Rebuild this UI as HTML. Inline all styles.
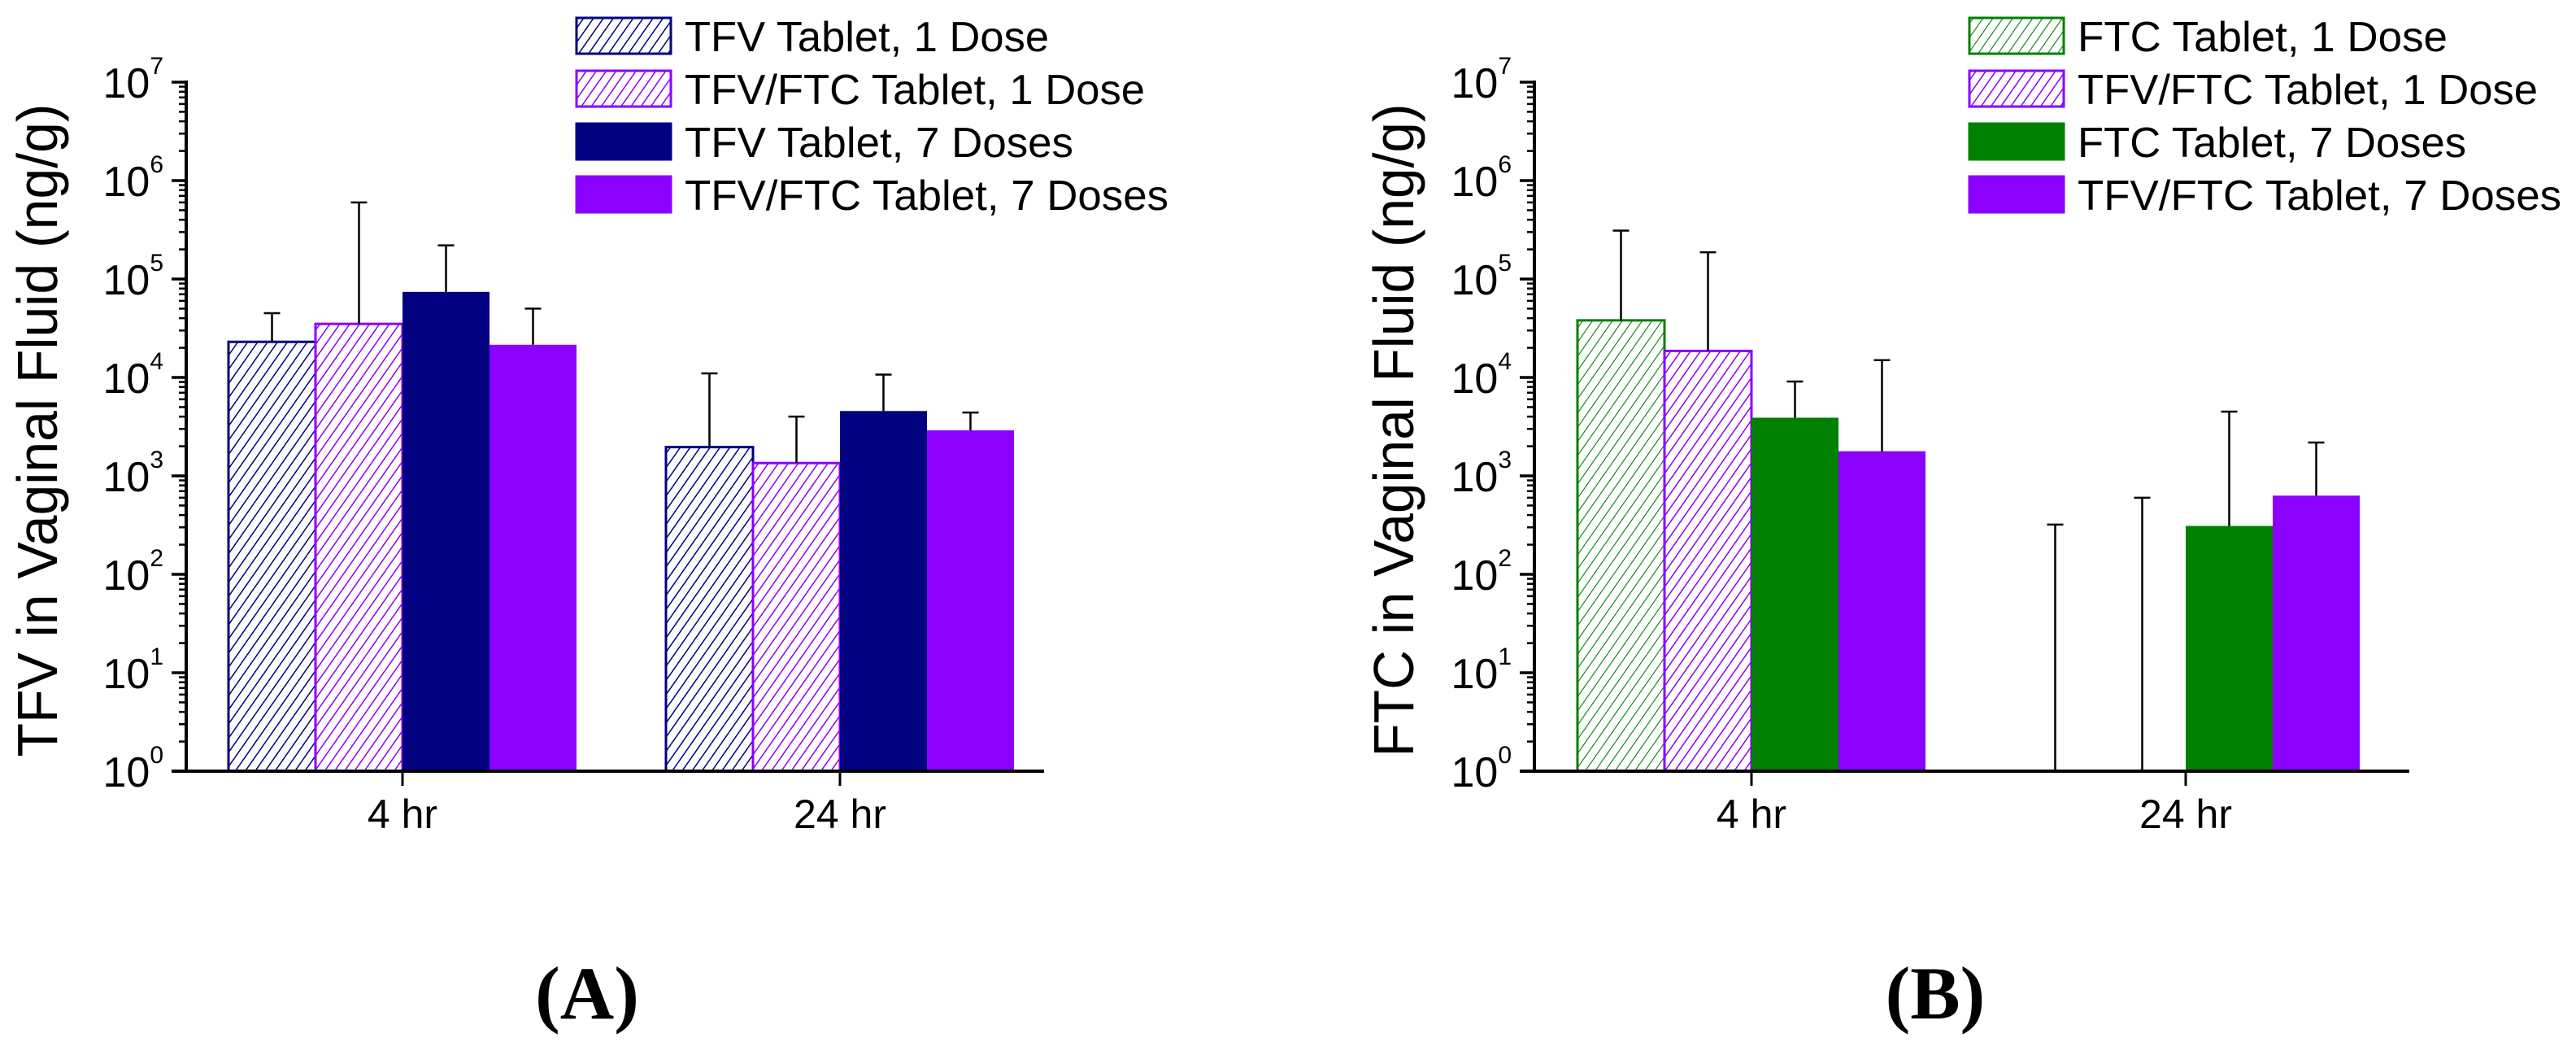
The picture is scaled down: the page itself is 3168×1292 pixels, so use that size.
<!DOCTYPE html>
<html><head><meta charset="utf-8"><style>
html,body{margin:0;padding:0;background:#fff;overflow:hidden;}
svg{display:block;font-family:"Liberation Sans",sans-serif;}
</style></head><body>
<svg id="fig" width="3168" height="1292" viewBox="0 0 3168 1292" xmlns="http://www.w3.org/2000/svg">
<defs>
<pattern id="hNavy" patternUnits="userSpaceOnUse" width="10" height="10" patternTransform="rotate(35)"><rect width="10" height="10" fill="#fff"/><line x1="0" y1="0" x2="0" y2="10" stroke="#000080" stroke-width="3"/></pattern>
<pattern id="hPurple" patternUnits="userSpaceOnUse" width="10" height="10" patternTransform="rotate(35)"><rect width="10" height="10" fill="#fff"/><line x1="0" y1="0" x2="0" y2="10" stroke="#8b00ff" stroke-width="3"/></pattern>
<pattern id="hGreen" patternUnits="userSpaceOnUse" width="10" height="10" patternTransform="rotate(35)"><rect width="10" height="10" fill="#fff"/><line x1="0" y1="0" x2="0" y2="10" stroke="#008000" stroke-width="2.2"/></pattern>
</defs>
<text x="722" y="1252" text-anchor="middle" font-family="Liberation Serif,serif" font-weight="bold" font-size="92">(A)</text>
<text x="2380" y="1252" text-anchor="middle" font-family="Liberation Serif,serif" font-weight="bold" font-size="92">(B)</text>
</svg>
<script>
const categories = ["4 hr", "24 hr"];
const tickExps = [0,1,2,3,4,5,6,7];
const seriesA = ["TFV Tablet, 1 Dose","TFV/FTC Tablet, 1 Dose","TFV Tablet, 7 Doses","TFV/FTC Tablet, 7 Doses"];
const valuesA = [[23000,35000,74000,21500],[1960,1350,4560,2900]];
const errorsA = [[45000,600000,220000,50000],[11000,4000,10700,4400]];
const seriesB = ["FTC Tablet, 1 Dose","TFV/FTC Tablet, 1 Dose","FTC Tablet, 7 Doses","TFV/FTC Tablet, 7 Doses"];
const valuesB = [[38000,18600,3900,1780],[0,0,310,630]];
const errorsB = [[310000,187000,9100,15000],[320,600,4500,2180]];

const NS="http://www.w3.org/2000/svg";
const svg=document.getElementById('fig');
function mk(tag,attrs,parent){const e=document.createElementNS(NS,tag);for(const k in attrs)e.setAttribute(k,attrs[k]);(parent||svg).appendChild(e);return e;}

const yTop=101, yBot=948, decades=7;
function yScale(v){ if(v<=1) return yBot; return yBot-(Math.log10(v))/decades*(yBot-yTop); }

function panel(cfg){
  const g=mk('g',{});
  
  
  const ax=cfg.axisX;
  function xScale(i){return cfg.catX[i];}
  const bw=107;
  categories.forEach((c,ci)=>{
    cfg.values[ci].forEach((v,si)=>{
      const cx=xScale(ci)-2*bw+si*bw+bw/2;
      if(v>1){
        const y=yScale(v);
        const r=mk('rect',{x:cx-bw/2,y:y,width:bw,height:yBot-y,fill:cfg.fills[si],stroke:cfg.strokes[si],'stroke-width':cfg.hatched[si]?3:0},g);
        
        
      }
      const ey=yScale(cfg.errors[ci][si]);
      const eb=mk('path',{d:`M${cx},${yScale(Math.max(v,1))}V${ey}M${cx-10},${ey}H${cx+10}`,stroke:'#000','stroke-width':2.5,fill:'none'},g);
      
      
    });
  });
  const axes=mk('path',{d:`M${ax},${yTop-2}V${yBot}M${ax-18},${yBot}H${cfg.axisEnd}`,stroke:'#000','stroke-width':4,fill:'none'},g);
  
  
  tickExps.forEach(e=>{
    const y=yScale(Math.pow(10,e));
    mk('line',{x1:ax-18,x2:ax,y1:y,y2:y,stroke:'#000','stroke-width':3.5},g);
    if(e<7){for(let m=2;m<10;m++){const ym=yScale(m*Math.pow(10,e));mk('line',{x1:ax-9,x2:ax,y1:ym,y2:ym,stroke:'#000','stroke-width':2.5},g);}}
    const t=mk('text',{x:ax-28,y:y+19,'text-anchor':'end','font-size':52},g);
    t.textContent='10';
    const s=mk('tspan',{dy:-29,'font-size':30},t);s.textContent=String(e);
    
    
  });
  categories.forEach((c,ci)=>{
    const x=xScale(ci);
    mk('line',{x1:x,x2:x,y1:yBot,y2:yBot+18,stroke:'#000','stroke-width':3},g);
    const t=mk('text',{x:x,y:1018,'text-anchor':'middle','font-size':50},g);
    t.textContent=c;
    
    
  });
  const yt=mk('text',{x:0,y:0,'text-anchor':'middle','font-size':70,textLength:803,lengthAdjust:'spacingAndGlyphs',transform:`translate(${cfg.titleX},${529}) rotate(-90)`},g);
  yt.textContent=cfg.title;
  
  
  cfg.series.forEach((s,si)=>{
    const y=22+si*65;
    const r=mk('rect',{x:cfg.legX,y:y,width:116,height:44,fill:cfg.fills[si],stroke:cfg.strokes[si],'stroke-width':3},g);
    
    
    const t=mk('text',{x:cfg.legX+133,y:y+41,'font-size':52,textLength:cfg.legW[si],lengthAdjust:'spacingAndGlyphs'},g);
    t.textContent=s;
    
    
  });
}
panel({name:'panel-a-chart',key:'a',axisX:229,axisEnd:1284,catX:[495,1033],series:seriesA,values:valuesA,errors:errorsA,
  fills:['url(#hNavy)','url(#hPurple)','#000080','#8b00ff'],strokes:['#000080','#8b00ff','#000080','#8b00ff'],hatched:[1,1,0,0],
  title:'TFV in Vaginal Fluid (ng/g)',titleX:70,legX:709,legW:[448,566,478,595]});
panel({name:'panel-b-chart',key:'b',axisX:1887,axisEnd:2963,catX:[2154,2688],series:seriesB,values:valuesB,errors:errorsB,
  fills:['url(#hGreen)','url(#hPurple)','#008000','#8b00ff'],strokes:['#008000','#8b00ff','#008000','#8b00ff'],hatched:[1,1,0,0],
  title:'FTC in Vaginal Fluid (ng/g)',titleX:1738,legX:2422,legW:[455,566,478,595]});
</script>
</body></html>
